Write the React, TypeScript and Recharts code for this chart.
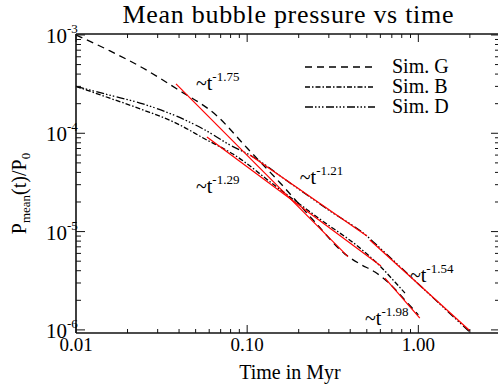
import React from "react";
import { LineChart, Line, XAxis, YAxis, Legend, ReferenceDot } from "recharts";

// values (t in Myr, P = P_mean / P_0)
const simG = [
  { t: 0.01, p: 1.0e-3 },
  { t: 0.0158, p: 6.88e-4 },
  { t: 0.0246, p: 4.61e-4 },
  { t: 0.0389, p: 2.82e-4 },
  { t: 0.0667, p: 1.5e-4 },
  { t: 0.0999, p: 7.08e-5 },
  { t: 0.156, p: 3.12e-5 },
  { t: 0.249, p: 1.25e-5 },
  { t: 0.373, p: 5.9e-6 },
  { t: 0.456, p: 4.68e-6 },
  { t: 0.558, p: 3.88e-6 },
  { t: 0.683, p: 2.93e-6 },
  { t: 0.836, p: 2.01e-6 },
  { t: 1.0, p: 1.42e-6 },
];

const simB = [
  { t: 0.01, p: 3.0e-4 },
  { t: 0.0156, p: 2.29e-4 },
  { t: 0.0246, p: 1.73e-4 },
  { t: 0.0384, p: 1.27e-4 },
  { t: 0.0567, p: 8.75e-5 },
  { t: 0.0826, p: 6.15e-5 },
  { t: 0.149, p: 2.84e-5 },
  { t: 0.266, p: 1.34e-5 },
  { t: 0.456, p: 6.8e-6 },
  { t: 0.597, p: 4.47e-6 },
  { t: 0.73, p: 3.07e-6 },
  { t: 0.836, p: 2.37e-6 },
];

const simD = [
  { t: 0.01, p: 3.0e-4 },
  { t: 0.0156, p: 2.45e-4 },
  { t: 0.0246, p: 1.99e-4 },
  { t: 0.0384, p: 1.5e-4 },
  { t: 0.0567, p: 1.08e-4 },
  { t: 0.0793, p: 7.6e-5 },
  { t: 0.1038, p: 6.0e-5 },
  { t: 0.178, p: 3.12e-5 },
  { t: 0.305, p: 1.62e-5 },
  { t: 0.501, p: 9.0e-6 },
  { t: 0.597, p: 6.8e-6 },
  { t: 1.09, p: 2.55e-6 },
  { t: 2.0, p: 9.5e-7 },
];

// power-law fits (end points)
const fit175 = [{ t: 0.0384, p: 3.18e-4 }, { t: 0.388, p: 5.56e-6 }];
const fit129 = [{ t: 0.0582, p: 9.16e-5 }, { t: 0.605, p: 4.47e-6 }];
const fit121 = [{ t: 0.1038, p: 6.01e-5 }, { t: 0.501, p: 9.02e-6 }];
const fit154 = [{ t: 0.521, p: 8.22e-6 }, { t: 2.0, p: 9.8e-7 }];
const fit198 = [{ t: 0.638, p: 3.37e-6 }, { t: 1.02, p: 1.32e-6 }];

const fitLabels = [
  { t: 0.0502, p: 2.75e-4, exp: "-1.75" },
  { t: 0.0502, p: 2.47e-5, exp: "-1.29" },
  { t: 0.203, p: 3.05e-5, exp: "-1.21" },
  { t: 0.893, p: 3.07e-6, exp: "-1.54" },
  { t: 0.488, p: 1.12e-6, exp: "-1.98" },
];

const xTicks = [
  0.01, 0.02, 0.03, 0.04, 0.05, 0.06, 0.07, 0.08, 0.09,
  0.1, 0.2, 0.3, 0.4, 0.5, 0.6, 0.7, 0.8, 0.9,
  1, 2, 3,
];

const yTicks = [
  1e-6, 2e-6, 3e-6, 4e-6, 5e-6, 6e-6, 7e-6, 8e-6, 9e-6,
  1e-5, 2e-5, 3e-5, 4e-5, 5e-5, 6e-5, 7e-5, 8e-5, 9e-5,
  1e-4, 2e-4, 3e-4, 4e-4, 5e-4, 6e-4, 7e-4, 8e-4, 9e-4,
  1e-3,
];

const sims = [
  { name: "Sim. G", data: simG, dash: "7 5" },
  { name: "Sim. B", data: simB, dash: "5 2 1.5 2" },
  { name: "Sim. D", data: simD, dash: "8 2 1.5 2 1.5 2 1.5 2.5" },
];

const fits = [fit175, fit129, fit121, fit154, fit198];

const serif = { fontFamily: "Liberation Serif, serif" };
const AXIS = "#111";

const isDecade = (v: number) => {
  const l = Math.log10(v);
  return Math.abs(l - Math.round(l)) < 1e-6;
};

const tickBottom = (props: any) => {
  const { x, y, payload } = props;
  const major = isDecade(payload.value);
  return (
    <g>
      <line x1={x} x2={x} y1={y} y2={y - (major ? 8 : 4)} stroke={AXIS} />
      {major && (
        <text x={x} y={y + 18} textAnchor="middle" fontSize={19} style={serif} fill="#000">
          {payload.value.toFixed(2)}
        </text>
      )}
    </g>
  );
};

const tickTop = (props: any) => {
  const { x, y, payload } = props;
  const major = isDecade(payload.value);
  return <line x1={x} x2={x} y1={y} y2={y + (major ? 8 : 4)} stroke={AXIS} />;
};

const tickLeft = (props: any) => {
  const { x, y, payload } = props;
  const major = isDecade(payload.value);
  const exp = Math.round(Math.log10(payload.value));
  return (
    <g>
      <line x1={x} x2={x + (major ? 9 : 5)} y1={y} y2={y} stroke={AXIS} />
      {major && (
        <g style={serif} fill="#000">
          <text x={x - 9} y={y + 8} textAnchor="end" fontSize={21}>10</text>
          <text x={x - 9} y={y - 2} fontSize={13}>{String(exp)}</text>
        </g>
      )}
    </g>
  );
};

const tickRight = (props: any) => {
  const { x, y, payload } = props;
  const major = isDecade(payload.value);
  return <line x1={x} x2={x - (major ? 9 : 5)} y1={y} y2={y} stroke={AXIS} />;
};

const titleLabel = (props: any) => {
  const { viewBox } = props;
  return (
    <text
      x={288}
      y={viewBox.y - 10}
      textAnchor="middle"
      fontSize={26}
      style={serif}
      fill="#000"
      textLength={331}
      lengthAdjust="spacing"
    >
      Mean bubble pressure vs time
    </text>
  );
};

const xLabel = (props: any) => {
  const { viewBox } = props;
  return (
    <text x={290} y={viewBox.y + 46} textAnchor="middle" fontSize={20} style={serif} fill="#000">
      Time in Myr
    </text>
  );
};

const yLabel = (props: any) => {
  const { viewBox } = props;
  const cx = 26;
  const cy = viewBox.y + viewBox.height / 2 + 10;
  return (
    <text
      x={cx}
      y={cy}
      transform={`rotate(-90, ${cx}, ${cy})`}
      textAnchor="middle"
      fontSize={20}
      style={serif}
      fill="#000"
    >
      <tspan>P</tspan>
      <tspan fontSize={13} dy={4}>mean</tspan>
      <tspan dy={-4}>(t)/P</tspan>
      <tspan fontSize={13} dy={4}>0</tspan>
    </text>
  );
};

const renderLegend = () => (
  <svg width={190} height={62}>
    {sims.map((s, i) => {
      const cy = 11 + i * 20;
      return (
        <g key={s.name}>
          <line x1={5} x2={75} y1={cy} y2={cy} stroke="#000" strokeWidth={1.3} strokeDasharray={s.dash} />
          <text x={92} y={cy + 6} fontSize={20} style={serif} fill="#000">
            {s.name}
          </text>
        </g>
      );
    })}
  </svg>
);

const fitLabelShape = (exp: string) => (props: any) => {
  const { cx, cy } = props;
  return (
    <text x={cx} y={cy} fontSize={20} style={serif} fill="#000">
      <tspan>~t</tspan>
      <tspan fontSize={13} dy={-9}>{exp}</tspan>
    </text>
  );
};

export default function App() {
  return (
    <div style={{ position: "absolute", left: 0, top: 0, width: 498, height: 388, overflow: "hidden", background: "#fff" }}>
      <LineChart width={504} height={388} margin={{ top: 33, right: 3, bottom: 0, left: 0 }}>
        <XAxis
          dataKey="t"
          type="number"
          scale="log"
          domain={[0.01, 3]}
          allowDataOverflow
          ticks={xTicks}
          interval={0}
          tick={tickBottom}
          tickLine={false}
          tickSize={0}
          tickMargin={0}
          height={55}
          axisLine={{ stroke: AXIS, strokeWidth: 1.6 }}
          label={xLabel}
        />
        <XAxis
          xAxisId="top"
          orientation="top"
          dataKey="t"
          type="number"
          scale="log"
          domain={[0.01, 3]}
          allowDataOverflow
          ticks={xTicks}
          interval={0}
          tick={tickTop}
          tickLine={false}
          tickSize={0}
          tickMargin={0}
          height={1}
          axisLine={{ stroke: AXIS, strokeWidth: 1.6 }}
          label={titleLabel}
        />
        <YAxis
          type="number"
          scale="log"
          domain={[9.3e-7, 1.023e-3]}
          allowDataOverflow
          ticks={yTicks}
          interval={0}
          tick={tickLeft}
          tickLine={false}
          tickSize={0}
          tickMargin={0}
          width={76}
          axisLine={{ stroke: AXIS, strokeWidth: 1.6 }}
          label={yLabel}
        />
        <YAxis
          yAxisId="right"
          orientation="right"
          type="number"
          scale="log"
          domain={[9.3e-7, 1.023e-3]}
          allowDataOverflow
          ticks={yTicks}
          interval={0}
          tick={tickRight}
          tickLine={false}
          tickSize={0}
          tickMargin={0}
          width={1}
          axisLine={{ stroke: AXIS, strokeWidth: 1.6 }}
        />
        <Legend
          layout="horizontal"
          align="center"
          verticalAlign="middle"
          wrapperStyle={{ top: 56, left: 300, width: 190, height: 62 }}
          content={renderLegend}
        />
        {sims.map((s) => (
          <Line
            key={s.name}
            data={s.data}
            dataKey="p"
            name={s.name}
            type="monotone"
            stroke="#000"
            strokeWidth={1.3}
            strokeDasharray={s.dash}
            dot={false}
            isAnimationActive={false}
          />
        ))}
        {fits.map((f, i) => (
          <Line
            key={"fit" + i}
            xAxisId="top"
            yAxisId="right"
            data={f}
            dataKey="p"
            type="linear"
            stroke="#ff0000"
            strokeWidth={1.2}
            dot={false}
            legendType="none"
            isAnimationActive={false}
          />
        ))}
        {fitLabels.map((l) => (
          <ReferenceDot
            key={l.exp}
            x={l.t}
            y={l.p}
            r={0}
            ifOverflow="visible"
            shape={fitLabelShape(l.exp)}
          />
        ))}
      </LineChart>
    </div>
  );
}
